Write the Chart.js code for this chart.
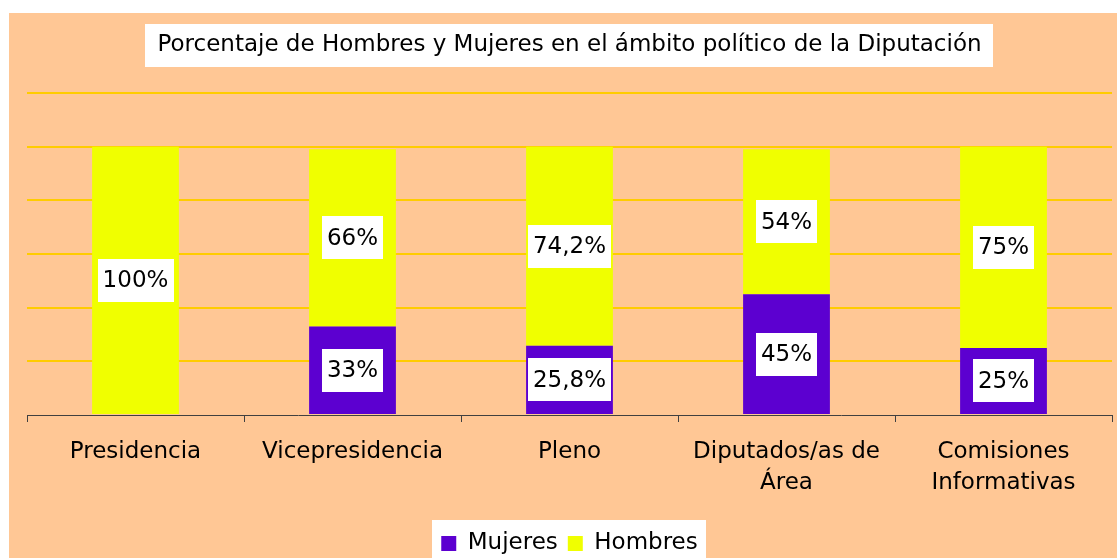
<!DOCTYPE html>
<html>
<head>
<meta charset="utf-8">
<script src="https://cdn.jsdelivr.net/npm/chart.js@4"></script>
<style>
  html, body { margin: 0; padding: 0; background: #ffffff; }
  #wrap { position: absolute; left: 9px; top: 13px; width: 1108px; height: 545px; overflow: hidden; background: #FFC795; }
  canvas { display: block; }
</style>
</head>
<body>
<div id="wrap"><canvas id="c" width="1108" height="552"></canvas></div>
<script>
const titleText = 'Porcentaje de Hombres y Mujeres en el ámbito político de la Diputación';
const categories = [
  'Presidencia',
  'Vicepresidencia',
  'Pleno',
  ['Diputados/as de', 'Área'],
  ['Comisiones', 'Informativas']
];
const mujeres = [0, 33, 25.8, 45, 25];
const hombres = [100, 66, 74.2, 54, 75];
const yTicks = { min: 0, max: 120, step: 20 };

const FONT = 'DejaVu Sans';
const FS = 23;
Chart.defaults.font.family = FONT;
Chart.defaults.color = '#000000';

const boxesPlugin = {
  id: 'boxes',
  beforeDraw(chart) {
    const ctx = chart.ctx;
    ctx.save();
    const tb = chart.titleBlock;
    if (tb) {
      const opts = chart.options.plugins.title;
      ctx.font = FS + 'px "' + FONT + '"';
      const tw = ctx.measureText(titleText).width;
      const cx = (tb.left + tb.right) / 2;
      const cy = tb.top + opts.padding.top + FS * 1.2 / 2;
      ctx.fillStyle = '#ffffff';
      ctx.fillRect(Math.round(cx - tw / 2 - 12), Math.round(cy - 20.5), Math.round(tw + 24), 43);
    }
    const lg = chart.legend;
    if (lg && lg.legendHitBoxes && lg.legendHitBoxes.length) {
      const hbs = lg.legendHitBoxes;
      let l = Infinity, r = -Infinity, t = Infinity;
      hbs.forEach(h => { l = Math.min(l, h.left); r = Math.max(r, h.left + h.width); t = Math.min(t, h.top); });
      ctx.fillStyle = '#ffffff';
      ctx.fillRect(Math.round(l - 9), Math.round(t - 12), Math.round(r - l + 17), chart.height);
    }
    ctx.restore();
  },
  afterDatasetsDraw(chart) {
    const ctx = chart.ctx;
    ctx.save();
    ctx.font = FS + 'px "' + FONT + '"';
    ctx.textAlign = 'center';
    ctx.textBaseline = 'middle';
    chart.data.datasets.forEach((ds, di) => {
      const meta = chart.getDatasetMeta(di);
      meta.data.forEach((el, i) => {
        const v = ds.data[i];
        if (!v) return;
        const txt = String(v).replace('.', ',') + '%';
        const tw = ctx.measureText(txt).width;
        const x = el.x;
        const y = (el.y + el.base) / 2;
        ctx.fillStyle = '#ffffff';
        ctx.fillRect(Math.round(x - tw / 2 - 5), Math.round(y - 21.5), Math.round(tw + 10), 43);
        ctx.fillStyle = '#000000';
        ctx.fillText(txt, x, y + 1);
      });
    });
    ctx.restore();
  }
};

new Chart(document.getElementById('c'), {
  type: 'bar',
  data: {
    labels: categories,
    datasets: [
      { label: 'Mujeres', data: mujeres, backgroundColor: '#5C00D0', borderWidth: 0 },
      { label: 'Hombres', data: hombres, backgroundColor: '#F0FF00', borderWidth: 0 }
    ]
  },
  options: {
    responsive: false,
    animation: false,
    devicePixelRatio: 1,
    layout: { padding: { left: 18, right: 5, top: 0, bottom: 0 } },
    datasets: { bar: { barPercentage: 0.4, categoryPercentage: 1.0 } },
    plugins: {
      title: {
        display: true,
        text: titleText,
        color: '#000000',
        font: { family: FONT, size: FS, weight: 'normal', lineHeight: 1.2 },
        padding: { top: 18, bottom: 34.4 }
      },
      legend: {
        display: true,
        position: 'bottom',
        labels: {
          color: '#000000',
          font: { family: FONT, size: FS },
          boxWidth: 15,
          boxHeight: 15,
          padding: 10
        }
      },
      tooltip: { enabled: false }
    },
    scales: {
      x: {
        stacked: true,
        grid: { display: true, drawOnChartArea: false, drawTicks: true, tickLength: 7, color: '#404040', offset: true },
        border: { display: true, color: '#404040', width: 1 },
        ticks: { color: '#000000', font: { family: FONT, size: FS, lineHeight: 31 / FS }, padding: 15, maxRotation: 0, autoSkip: false },
        afterFit(scale) { scale.height = 107; }
      },
      y: {
        stacked: true,
        min: yTicks.min,
        max: yTicks.max,
        ticks: { display: false, stepSize: yTicks.step },
        grid: {
          drawTicks: false,
          lineWidth: 2,
          color: (c) => (c.tick && c.tick.value === 0) ? 'rgba(0,0,0,0)' : '#FFCC00'
        },
        border: { display: false }
      }
    }
  },
  plugins: [boxesPlugin]
});
</script>
</body>
</html>
